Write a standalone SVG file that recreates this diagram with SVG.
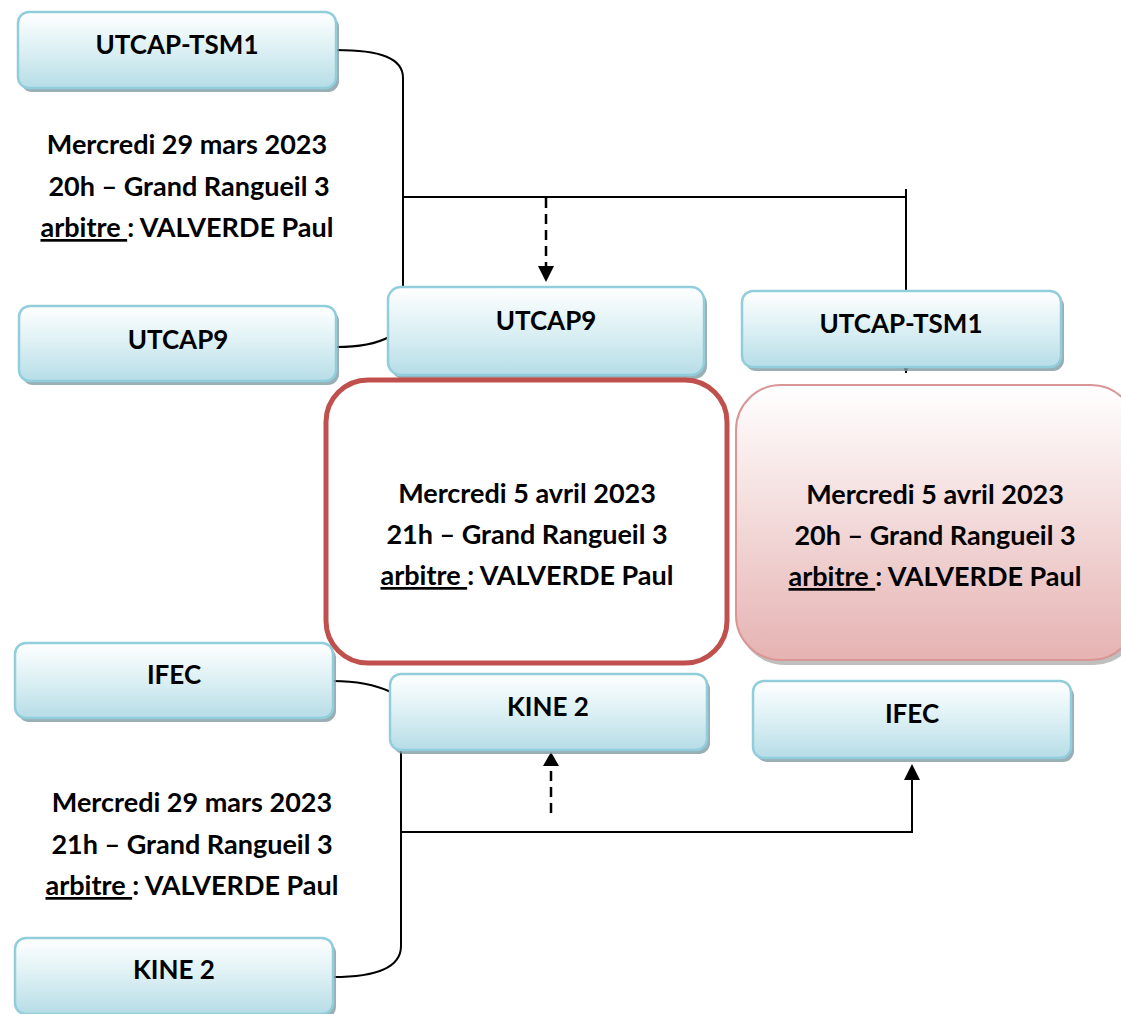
<svg xmlns="http://www.w3.org/2000/svg" width="1121" height="1014" viewBox="0 0 1121 1014">
<style>
text{font-family:"Lato","Open Sans","Liberation Sans",sans-serif;font-weight:bold;fill:#000;text-anchor:middle;white-space:pre}
.lbl{font-size:26px}
.info{font-size:27px}
.u{text-decoration:underline}
.box{fill:url(#gBlue);stroke:#92cddc;stroke-width:2.5}
.sh{fill:#7f9aa3;opacity:0.8}
.ln{fill:none;stroke:#000;stroke-width:2}
.dash{fill:none;stroke:#000;stroke-width:2.5;stroke-dasharray:10,6}
</style>
<defs>
<linearGradient id="gBlue" x1="0" y1="0" x2="0" y2="1">
<stop offset="0" stop-color="#ffffff"/>
<stop offset="0.5" stop-color="#dcf0f4"/>
<stop offset="1" stop-color="#b6dde7"/>
</linearGradient>
<linearGradient id="gPink" x1="0" y1="0" x2="0" y2="1">
<stop offset="0" stop-color="#ffffff"/>
<stop offset="0.45" stop-color="#f4dddd"/>
<stop offset="1" stop-color="#e5b3b2"/>
</linearGradient>
<marker id="ah" viewBox="0 0 10 10" refX="10" refY="5" markerWidth="8" markerHeight="8" markerUnits="userSpaceOnUse" orient="auto">
<path d="M0,0 L10,5 L0,10 z" fill="#000"/>
</marker>
</defs>
<rect width="1121" height="1014" fill="#fff"/>

<g id="connectors">
<path class="ln" d="M336,50 C380,50 403,58 403,78 L403,288"/>
<path class="ln" d="M403,197 L907,197"/>
<path class="ln" d="M906,189 L906,373" marker-end="url(#ah)"/>
<path class="dash" d="M546,198 L546,266"/>
<path d="M538,266 L554,266 L546,282 z" fill="#000"/>
<path class="ln" d="M336,347 C360,347 378,343 389,337"/>
<path class="ln" d="M333,681 C360,681 378,686 391,692"/>
<path class="ln" d="M333,977 C380,977 401,966 401,946 L401,751"/>
<path class="ln" d="M401,832 L913,832"/>
<path class="ln" d="M912,833 L912,780"/>
<path d="M904,780 L920,780 L912,764 z" fill="#000"/>
<path class="dash" d="M551,813 L551,766"/>
<path d="M543,766 L559,766 L551,752 z" fill="#000"/>
</g>

<g id="n1">
<rect class="sh" x="21" y="16" width="318" height="76" rx="11"/>
<rect class="box" x="18" y="12" width="318" height="76" rx="11"/>
<text class="lbl" x="177" y="54">UTCAP-TSM1</text>
</g>

<g id="info1">
<text class="info" x="187" y="154">Mercredi 29 mars 2023</text>
<text class="info" x="189" y="196">20h – Grand Rangueil 3</text>
<text class="info" x="187" y="237"><tspan class="u">arbitre </tspan>: VALVERDE Paul</text>
</g>

<g id="n2">
<rect class="sh" x="22" y="310" width="317" height="75" rx="11"/>
<rect class="box" x="19" y="306" width="317" height="75" rx="11"/>
<text class="lbl" x="178" y="349">UTCAP9</text>
</g>

<g id="n3">
<rect class="sh" x="391" y="291" width="316" height="88" rx="13"/>
<rect class="box" x="388" y="287" width="316" height="88" rx="13"/>
<text class="lbl" x="546" y="330">UTCAP9</text>
</g>

<g id="n4">
<rect class="sh" x="745" y="295" width="319" height="76" rx="11"/>
<rect class="box" x="742" y="291" width="319" height="76" rx="11"/>
<text class="lbl" x="901" y="333">UTCAP-TSM1</text>
</g>

<g id="n5">
<rect x="326" y="380" width="401" height="283" rx="42" fill="#fff" stroke="#c0504d" stroke-width="5"/>
<text class="info" x="527" y="503">Mercredi 5 avril 2023</text>
<text class="info" x="527" y="544">21h – Grand Rangueil 3</text>
<text class="info" x="527" y="585"><tspan class="u">arbitre </tspan>: VALVERDE Paul</text>
</g>

<g id="n6">
<rect x="739" y="389" width="400" height="276" rx="45" fill="#8a8a8a" opacity="0.55"/>
<rect x="736" y="385" width="400" height="275" rx="45" fill="url(#gPink)" stroke="#d99694" stroke-width="2"/>
<text class="info" x="935" y="504">Mercredi 5 avril 2023</text>
<text class="info" x="935" y="545">20h – Grand Rangueil 3</text>
<text class="info" x="935" y="586"><tspan class="u">arbitre </tspan>: VALVERDE Paul</text>
</g>

<g id="n7">
<rect class="sh" x="18" y="647" width="318" height="75" rx="11"/>
<rect class="box" x="15" y="643" width="318" height="75" rx="11"/>
<text class="lbl" x="174" y="684">IFEC</text>
</g>

<g id="n8">
<rect class="sh" x="393" y="678" width="317" height="76" rx="11"/>
<rect class="box" x="390" y="674" width="317" height="76" rx="11"/>
<text class="lbl" x="548" y="716">KINE 2</text>
</g>

<g id="n9">
<rect class="sh" x="756" y="685" width="318" height="77" rx="11"/>
<rect class="box" x="753" y="681" width="318" height="77" rx="11"/>
<text class="lbl" x="912" y="723">IFEC</text>
</g>

<g id="info2">
<text class="info" x="192" y="812">Mercredi 29 mars 2023</text>
<text class="info" x="192" y="854">21h – Grand Rangueil 3</text>
<text class="info" x="192" y="895"><tspan class="u">arbitre </tspan>: VALVERDE Paul</text>
</g>

<g id="n10">
<rect class="sh" x="18" y="942" width="318" height="76" rx="11"/>
<rect class="box" x="15" y="938" width="318" height="76" rx="11"/>
<text class="lbl" x="174" y="979">KINE 2</text>
</g>
</svg>
